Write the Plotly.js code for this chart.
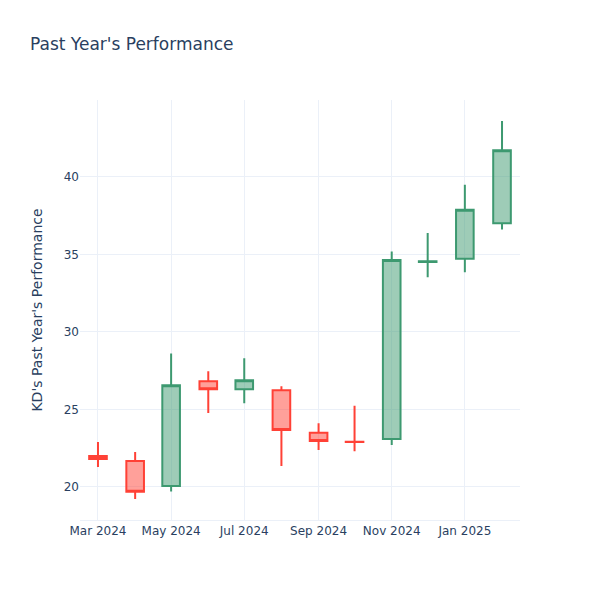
<!DOCTYPE html>
<html>
<head>
<meta charset="utf-8">
<script src="https://cdn.plot.ly/plotly-3.0.1.min.js"></script>
<style>html,body{margin:0;padding:0;background:#fff}</style>
</head>
<body>
<div id="chart" style="width:600px;height:600px"></div>
<script>
const dates = ["2024-03-01","2024-04-01","2024-05-01","2024-06-01","2024-07-01","2024-08-01","2024-09-01","2024-10-01","2024-11-01","2024-12-01","2025-01-01","2025-02-01"];
const openVals  = [21.99, 21.67, 20.06, 26.82, 26.30, 26.24, 23.49, 22.92, 23.09, 34.50, 34.71, 37.00];
const highVals  = [22.89, 22.25, 28.60, 27.46, 28.30, 26.50, 24.10, 25.23, 35.18, 36.38, 39.49, 43.60];
const lowVals   = [21.29, 19.22, 19.70, 24.76, 25.40, 21.35, 22.38, 22.30, 22.70, 33.52, 33.85, 36.60];
const closeVals = [21.80, 19.68, 26.56, 26.30, 26.88, 23.67, 22.96, 22.90, 34.64, 34.55, 37.88, 41.72];

const trace = {
  type: "candlestick",
  x: dates, open: openVals, high: highVals, low: lowVals, close: closeVals,
  increasing: {line: {color: "#3D9970"}},
  decreasing: {line: {color: "#FF4136"}},
  showlegend: false
};
const layout = {
  width: 600, height: 600,
  paper_bgcolor: "#fff", plot_bgcolor: "#fff",
  font: {family: "\"DejaVu Sans\", verdana, arial, sans-serif", size: 12, color: "#2a3f5f"},
  title: {text: "Past Year's Performance", x: 0.05, font: {size: 17, color: "#2a3f5f"}},
  margin: {l: 80, r: 80, t: 100, b: 80},
  xaxis: {rangeslider: {visible: false}, gridcolor: "#EBF0F8", zeroline: false, linecolor: "#EBF0F8", ticks: "", type: "date"},
  yaxis: {title: {text: "KD's Past Year's Performance"}, gridcolor: "#EBF0F8", zeroline: false, ticks: ""}
};
Plotly.newPlot("chart", [trace], layout, {displayModeBar: false});
</script>
</body>
</html>
